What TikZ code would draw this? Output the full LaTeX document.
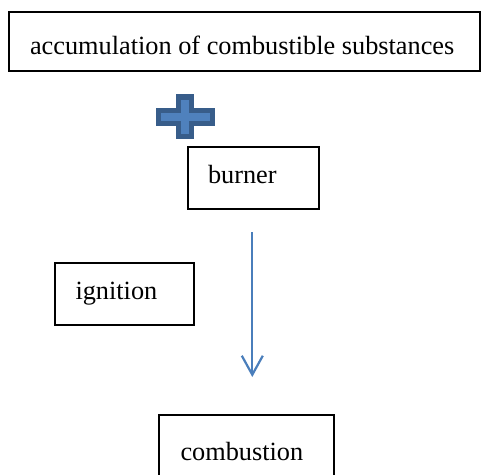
\documentclass[tikz,border=0pt]{standalone}
\usepackage{fontspec}
\setmainfont{Liberation Serif}
\usetikzlibrary{arrows.meta}
\definecolor{boxline}{HTML}{000000}
\definecolor{plusfill}{HTML}{4F81BD}
\definecolor{plusline}{HTML}{385D8A}
\definecolor{arrowblue}{HTML}{4A7EBB}
\tikzset{
  box/.style={draw=boxline, line width=1.2pt, rectangle, inner sep=0pt, outer sep=0pt, anchor=north west},
  lbl/.style={inner sep=0pt, outer sep=0pt, anchor=base west, font=\fontsize{26.3pt}{30pt}\selectfont},
  flow/.style={draw=arrowblue, line width=2.2pt, -{Straight Barb[length=19pt, width=21pt, line width=2.2pt]}},
  plussign/.style={fill=plusfill, draw=plusline, line width=5.2pt, line join=miter}
}
\begin{document}
\begin{tikzpicture}[x=1pt, y=-1pt]
\useasboundingbox (0,0) rectangle (481,474);
\clip (0,0) rectangle (481,474);
% boxes
\node[box, minimum width=471pt, minimum height=59pt] (topbox) at (9,12) {};
\node[lbl] (toptext) at (30,54) {accumulation of combustible substances};
\node[box, minimum width=131pt, minimum height=62pt] (burnerbox) at (188,147) {};
\node[lbl] (burnertext) at (208,183.5) {burner};
\node[box, minimum width=139pt, minimum height=62pt] (ignitionbox) at (55,263) {};
\node[lbl] (ignitiontext) at (75.5,299) {ignition};
\node[box, minimum width=175pt, minimum height=80pt] (combbox) at (159,415) {};
\node[lbl] (combtext) at (180.5,460.5) {combustion};
% plus sign
\draw[plussign] (178.6,97) -- (191.4,97) -- (191.4,110.6) -- (212.4,110.6) -- (212.4,123.1)
  -- (191.4,123.1) -- (191.4,136.7) -- (178.6,136.7) -- (178.6,123.1) -- (158.6,123.1)
  -- (158.6,110.6) -- (178.6,110.6) -- cycle;
% arrow
\coordinate (arrowstart) at (252.3,232);
\coordinate (arrowend) at (252.3,377);
\draw[flow] (arrowstart) -- (arrowend);
\end{tikzpicture}
\end{document}
